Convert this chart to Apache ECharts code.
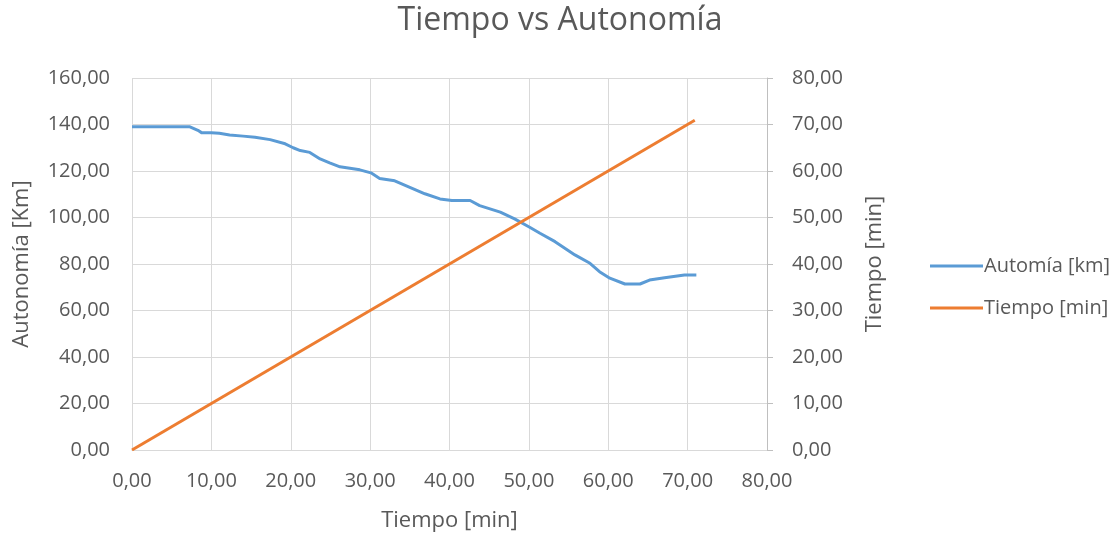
<!DOCTYPE html>
<html><head><meta charset="utf-8">
<script src="https://cdn.jsdelivr.net/npm/echarts@6/dist/echarts.min.js"></script>
<style>html,body{margin:0;padding:0;background:#fff}#c{width:1120px;height:538px}</style>
</head><body><div id="c"></div>
<script>
var titleText = 'Tiempo vs Autonomía';
var autTime = [0,7.3,8.3,8.8,10,11,12.3,14,15.5,17.4,19.3,20.3,21.2,22.4,23.7,24.9,26.2,28.7,30.1,31.2,33.1,35,36.9,38.8,40.3,42.6,43.8,46.4,48.2,50.1,51.4,53.3,55.8,57.7,58.9,60.2,62.1,64,65.2,67.1,69.6,71.1];
var autKm = [139,139,137.5,136.4,136.5,136.2,135.5,135,134.5,133.5,131.7,130,128.8,128,125.2,123.5,121.8,120.5,119.2,116.8,115.8,113,110.2,108,107.3,107.3,105.1,102.3,99.4,95.8,93.2,89.6,83.9,80.3,76.7,73.9,71.4,71.4,73.1,74.1,75.3,75.3];
var tiempoTime = [0,70.9];
var tiempoMin = [0,70.9];
var seriesNames = ['Automía [km]','Tiempo [min]'];
var xName = 'Tiempo [min]', yLeftName = 'Autonomía [Km]', yRightName = 'Tiempo [min]';

function fmt(v){return v.toFixed(2).replace('.',',');}
function pairs(a,b){return a.map(function(x,i){return [x,b[i]];});}
var font = 'Open Sans';
var txt = '#595959';
var chart = echarts.init(document.getElementById('c'));
chart.setOption({
  animation:false,
  title:{text:titleText,left:'center',top:0,textStyle:{fontFamily:font,fontSize:32,fontWeight:'normal',color:txt}},
  grid:{left:132,right:353,top:78,bottom:88,containLabel:false},
  legend:{orient:'vertical',left:925,top:251,itemGap:22,icon:'rect',itemWidth:53,itemHeight:3,
    textStyle:{fontFamily:font,fontSize:20,color:txt,padding:[0,0,0,-4]},data:seriesNames},
  xAxis:{type:'value',min:0,max:80,interval:10,name:xName,nameLocation:'middle',nameGap:60,
    nameTextStyle:{fontFamily:font,fontSize:22,color:txt},
    axisLine:{show:true,lineStyle:{color:'#d9d9d9'}},axisTick:{show:false},
    axisLabel:{formatter:fmt,fontFamily:font,fontSize:20,color:txt,margin:21},
    splitLine:{show:true,lineStyle:{color:'#d9d9d9'}}},
  yAxis:[
    {type:'value',min:0,max:160,interval:20,name:yLeftName,nameLocation:'middle',nameGap:99,
     nameTextStyle:{fontFamily:font,fontSize:22,color:txt},
     axisLine:{show:false},axisTick:{show:false},
     axisLabel:{formatter:fmt,fontFamily:font,fontSize:20,color:txt,margin:22},
     splitLine:{show:true,lineStyle:{color:'#d9d9d9'}}},
    {type:'value',min:0,max:80,interval:10,position:'right',name:yRightName,nameLocation:'middle',nameGap:97,
     nameTextStyle:{fontFamily:font,fontSize:22,color:txt},
     axisLine:{show:true,lineStyle:{color:'#bfbfbf'}},axisTick:{show:true,length:6,lineStyle:{color:'#bfbfbf'}},
     axisLabel:{formatter:fmt,fontFamily:font,fontSize:20,color:txt,margin:25},
     splitLine:{show:false}}
  ],
  series:[
    {name:seriesNames[0],type:'line',xAxisIndex:0,yAxisIndex:0,data:pairs(autTime,autKm),showSymbol:false,
     lineStyle:{color:'#5B9BD5',width:3},itemStyle:{color:'#5B9BD5'}},
    {name:seriesNames[1],type:'line',xAxisIndex:0,yAxisIndex:1,data:pairs(tiempoTime,tiempoMin),showSymbol:false,
     lineStyle:{color:'#ED7D31',width:3},itemStyle:{color:'#ED7D31'}}
  ]
});
</script></body></html>
